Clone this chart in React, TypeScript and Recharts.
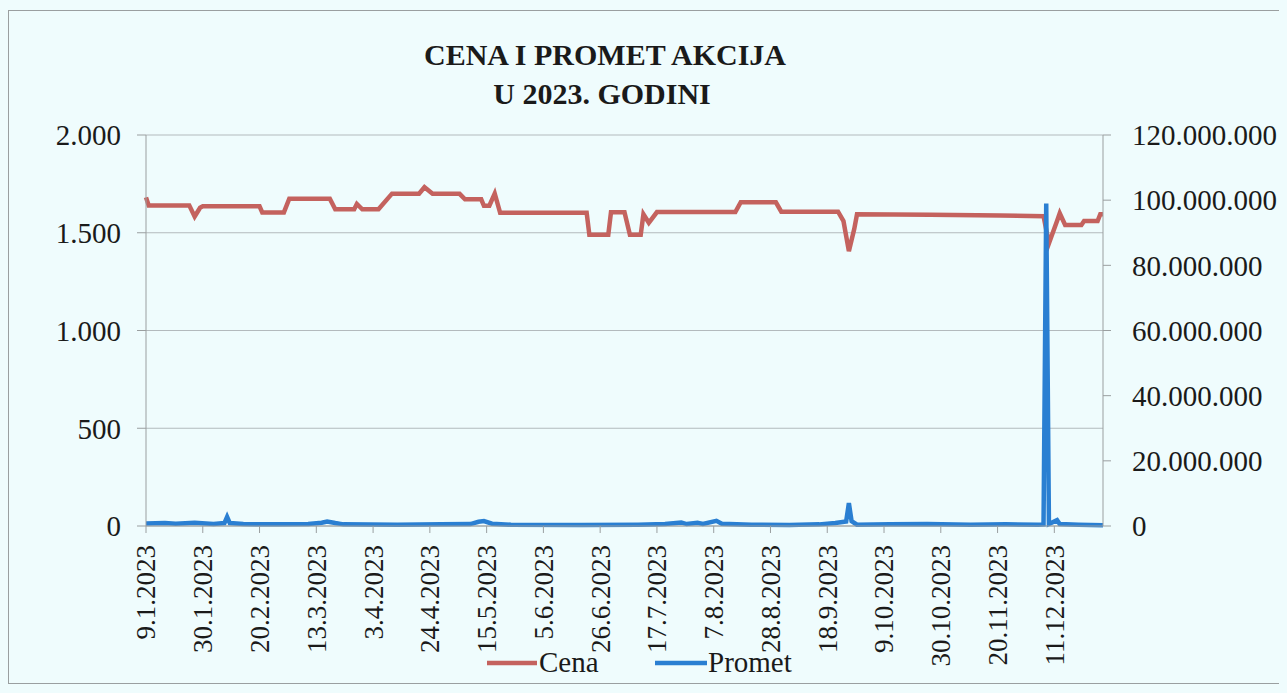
import { LineChart, Line, XAxis, YAxis, CartesianGrid } from "recharts";

// Cena (price) change points
const cenaDates = [
  "9.1", "10.1", "25.1", "27.1", "29.1", "30.1", "20.2", "21.2", "1.3", "3.3",
  "18.3", "20.3", "27.3", "28.3", "30.3", "5.4", "10.4", "20.4", "22.4", "25.4",
  "5.5", "7.5", "13.5", "14.5", "16.5", "18.5", "20.5", "21.6", "22.6", "29.6",
  "30.6", "5.7", "7.7", "11.7", "12.7", "14.7", "17.7", "15.8", "17.8", "30.8",
  "1.9", "22.9", "24.9", "26.9", "28.9", "29.9", "26.10", "21.11", "7.12", "9.12",
  "12.12", "13.12", "15.12", "21.12", "22.12", "27.12", "28.12", "29.12",
];
const cenaValues = [
  1681, 1640, 1640, 1583, 1628, 1635, 1635, 1604, 1604, 1674,
  1674, 1620, 1620, 1647, 1620, 1620, 1700, 1700, 1733, 1699,
  1699, 1671, 1671, 1638, 1638, 1700, 1602, 1602, 1490, 1490,
  1605, 1605, 1490, 1490, 1595, 1551, 1606, 1606, 1656, 1656,
  1608, 1608, 1560, 1406, 1520, 1594, 1592, 1588, 1585, 1446,
  1560, 1600, 1540, 1540, 1560, 1560, 1595, 1595,
];

// Promet (turnover) points
const prometDates = [
  "9.1", "16.1", "20.1", "27.1", "3.2", "7.2", "8.2", "9.2", "14.2", "27.2",
  "10.3", "15.3", "17.3", "20.3", "23.3", "12.4", "28.4", "9.5", "12.5", "14.5",
  "17.5", "24.5", "19.6", "10.7", "20.7", "26.7", "28.7", "1.8", "3.8", "8.8",
  "10.8", "21.8", "4.9", "15.9", "21.9", "25.9", "26.9", "27.9", "29.9", "11.10",
  "25.10", "10.11", "23.11", "5.12", "7.12", "8.12", "9.12", "12.12", "13.12", "20.12",
  "29.12",
];
const prometValues = [
  800000, 900000, 700000, 1000000, 600000, 900000, 2800000, 900000, 600000, 500000,
  600000, 1000000, 1400000, 900000, 500000, 400000, 500000, 600000, 1300000, 1500000,
  700000, 400000, 300000, 400000, 600000, 1100000, 600000, 1000000, 600000, 1600000,
  700000, 400000, 300000, 500000, 900000, 1400000, 7000000, 1500000, 400000, 500000,
  600000, 400000, 500000, 400000, 500000, 99000000, 600000, 1800000, 600000, 400000,
  200000,
];

const tickLabels = [
  "9.1.2023", "30.1.2023", "20.2.2023", "13.3.2023", "3.4.2023", "24.4.2023",
  "15.5.2023", "5.6.2023", "26.6.2023", "17.7.2023", "7.8.2023", "28.8.2023",
  "18.9.2023", "9.10.2023", "30.10.2023", "20.11.2023", "11.12.2023",
];
const cenaTicks = [0, 500, 1000, 1500, 2000];
const prometTicks = [0, 20000000, 40000000, 60000000, 80000000, 100000000, 120000000];

const dayOf = (s: string) => {
  const [d, m] = s.split(".").map(Number);
  return Math.round((Date.UTC(2023, m - 1, d) - Date.UTC(2023, 0, 9)) / 86400000);
};

const cenaData = cenaDates.map((s, i) => ({ d: dayOf(s), v: cenaValues[i] }));
const prometData = prometDates.map((s, i) => ({ d: dayOf(s), v: prometValues[i] }));
const xTicks = tickLabels.map(dayOf);

const dots = (n: number) => String(n).replace(/\B(?=(\d{3})+(?!\d))/g, ".");

const FONT = "'Liberation Serif', 'Times New Roman', serif";
const RED = "#c4625e";
const BLUE = "#2a7fd2";
const BG = "#effcfd";

const XTick = (props: any) => {
  const { x, y, index } = props;
  return (
    <g transform={`translate(${x},${y})`}>
      <text
        transform="rotate(-90)"
        x={-10}
        dy="0.35em"
        textAnchor="end"
        fontSize={27}
        fontFamily={FONT}
        fill="#1a1a1a"
      >
        {tickLabels[index]}
      </text>
    </g>
  );
};

export default function App() {
  const tickStyle = { fontSize: 29, fontFamily: FONT, fill: "#1a1a1a" };
  return (
    <div
      style={{
        position: "relative",
        width: 1270,
        height: 672,
        marginTop: 2,
        border: "1px solid #9a9fa0",
        background: BG,
      }}
    >
      <style>{`body{background:${BG}}`}</style>
      <LineChart width={1270} height={672} margin={{ top: 124, right: 0, bottom: 0, left: 0 }}>
        <CartesianGrid yAxisId="left" vertical={false} stroke="#b3babd" />
        <XAxis
          dataKey="d"
          type="number"
          domain={[0, 354]}
          ticks={xTicks}
          interval={0}
          height={157}
          tickSize={7}
          stroke="#9a9fa0"
          tick={<XTick />}
        />
        <YAxis
          yAxisId="left"
          domain={[0, 2000]}
          ticks={cenaTicks}
          width={137}
          tickSize={9}
          tickMargin={16}
          stroke="#9a9fa0"
          tick={tickStyle}
          tickFormatter={dots}
        />
        <YAxis
          yAxisId="right"
          orientation="right"
          domain={[0, 120000000]}
          ticks={prometTicks}
          width={176}
          tickSize={8}
          tickMargin={21}
          stroke="#9a9fa0"
          tick={{ ...tickStyle, textAnchor: "start" }}
          tickFormatter={dots}
        />
        <Line
          yAxisId="left"
          data={cenaData}
          dataKey="v"
          name="Cena"
          type="linear"
          stroke={RED}
          strokeWidth={4.5}
          dot={false}
          isAnimationActive={false}
        />
        <Line
          yAxisId="right"
          data={prometData}
          dataKey="v"
          name="Promet"
          type="linear"
          stroke={BLUE}
          strokeWidth={4.5}
          dot={false}
          isAnimationActive={false}
        />
      </LineChart>
      <svg
        width={1270}
        height={672}
        style={{ position: "absolute", left: 0, top: 0, pointerEvents: "none" }}
      >
        <text x={596} y={54} textAnchor="middle" fontSize={30} fontWeight="bold" fontFamily={FONT} fill="#1a1a1a">
          CENA I PROMET AKCIJA
        </text>
        <text x={593} y={93} textAnchor="middle" fontSize={30} fontWeight="bold" fontFamily={FONT} fill="#1a1a1a">
          U 2023. GODINI
        </text>
        <line x1={478} x2={528} y1={652} y2={652} stroke={RED} strokeWidth={4.5} />
        <text x={530} y={661} fontSize={29} fontFamily={FONT} fill="#1a1a1a">
          Cena
        </text>
        <line x1={646} x2={698} y1={652} y2={652} stroke={BLUE} strokeWidth={4.5} />
        <text x={699} y={661} fontSize={29} fontFamily={FONT} fill="#1a1a1a">
          Promet
        </text>
      </svg>
    </div>
  );
}
